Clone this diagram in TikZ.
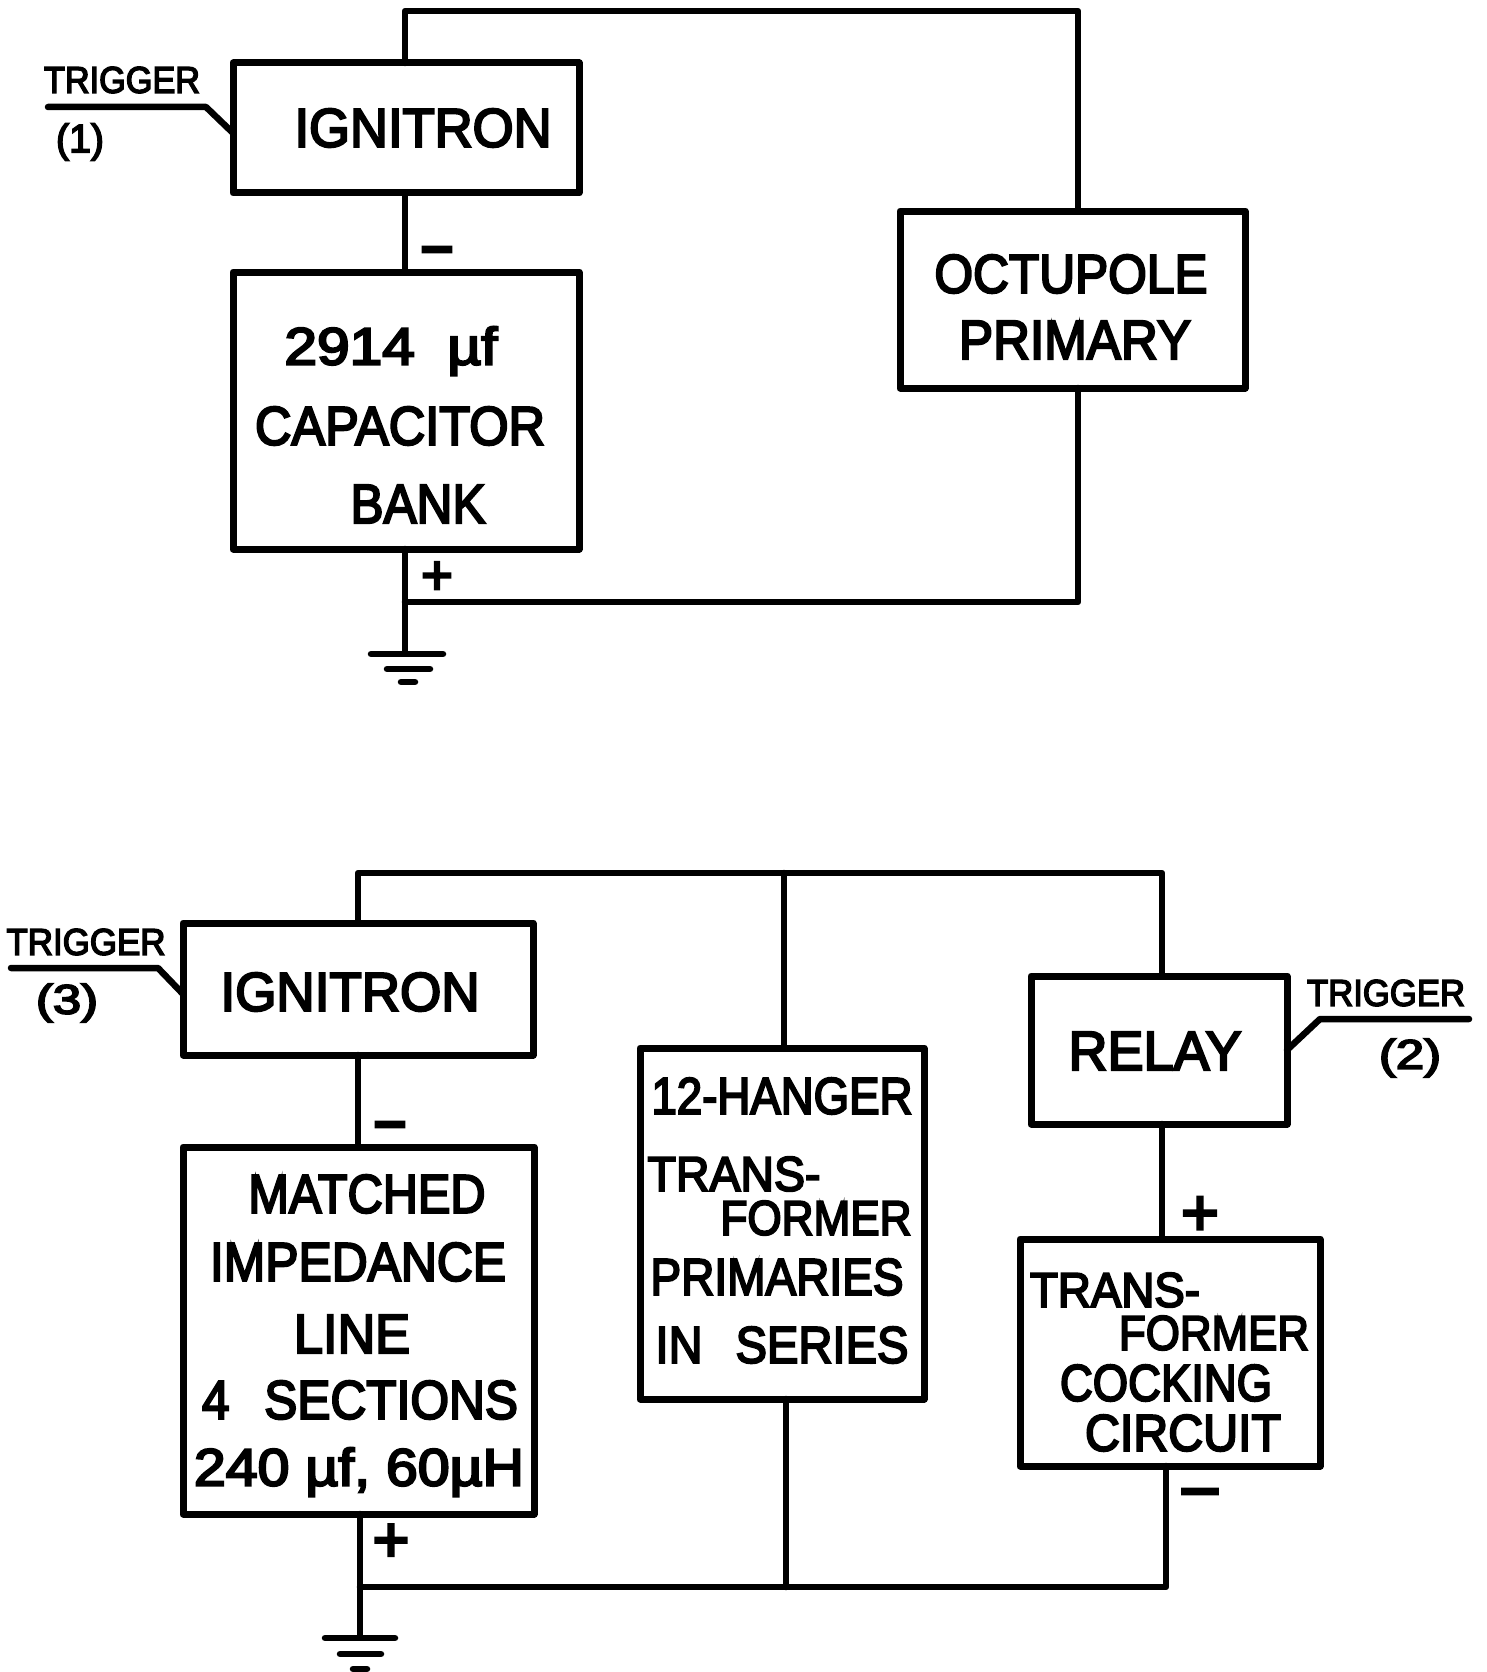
\documentclass[tikz,border=0pt]{standalone}
\usepackage{fontspec}
\usepackage{graphicx}
\setmainfont[FakeBold=4]{Liberation Sans}
\tikzset{
  wire/.style={line width=6.5pt,line cap=round,line join=round},
  blk/.style={draw,rectangle,line width=7pt,line join=round,outer sep=0pt,inner sep=0pt},
  lbl/.style={inner sep=0pt,outer sep=0pt}
}
\newcommand{\lab}[5]{\node[lbl] (#1) at (#2) {\resizebox{#3pt}{#4pt}{#5}};}
\newcommand{\blkat}[5]{\node[blk,minimum width=#4pt,minimum height=#5pt] (#1) at (#2,#3) {};}
\begin{document}
\begin{tikzpicture}[x=1pt,y=-1pt]
\useasboundingbox (0,0) rectangle (1487,1672);
\fill[white] (0,0) rectangle (1487,1672);
% --- top circuit boxes
\blkat{ignA}{406}{128}{346}{130}
\blkat{capA}{406}{410.5}{346}{277}
\blkat{octA}{1072.5}{299.5}{345}{177}
% wires
\coordinate (topL) at (405,11);
\coordinate (topR) at (1078,11);
\coordinate (botA) at (405,602);
\coordinate (botR) at (1078,602);
\coordinate (gndA) at (405,652);
\draw[wire] (ignA.north -| topL) -- (topL) -- (topR) -- (octA.north -| topR);
\draw[wire] (octA.south -| botR) -- (botR) -- (botA);
\draw[wire] (ignA.south -| topL) -- (capA.north -| topL);
\draw[wire] (capA.south -| botA) -- (gndA);
\coordinate (gA1) at (371,654); \coordinate (gA2) at (443,654);
\coordinate (gA3) at (387,669); \coordinate (gA4) at (430,669);
\coordinate (gA5) at (401,682); \coordinate (gA6) at (415,682);
\draw[wire] (gA1) -- (gA2);
\draw[wire] (gA3) -- (gA4);
\draw[wire] (gA5) -- (gA6);
% trigger 1
\coordinate (trA1) at (48,107);
\coordinate (trA2) at (206,107);
\coordinate (trA3) at (233,133);
\draw[wire] (trA1) -- (trA2) -- (trA3);
% --- bottom circuit boxes
\blkat{ignB}{358}{989}{350}{132}
\blkat{matB}{358.5}{1330.5}{351}{367}
\blkat{hanB}{782}{1223.5}{284}{351}
\blkat{relB}{1159}{1050}{256}{148}
\blkat{cokB}{1170}{1352.5}{300}{227}
\coordinate (tL) at (358,873);
\coordinate (tM) at (784,873);
\coordinate (tR) at (1162,873);
\coordinate (bL) at (360,1587);
\coordinate (bM) at (786,1587);
\coordinate (bR) at (1166,1587);
\coordinate (gndB) at (360,1637);
\draw[wire] (ignB.north -| tL) -- (tL) -- (tR) -- (relB.north -| tR);
\draw[wire] (tM) -- (hanB.north -| tM);
\draw[wire] (hanB.south -| bM) -- (bM);
\draw[wire] (ignB.south -| tL) -- (matB.north -| tL);
\draw[wire] (matB.south -| bL) -- (gndB);
\draw[wire] (bL) -- (bR) -- (cokB.south -| bR);
\draw[wire] (relB.south -| tR) -- (cokB.north -| tR);
\coordinate (gB1) at (325,1638); \coordinate (gB2) at (395,1638);
\coordinate (gB3) at (340,1654); \coordinate (gB4) at (381,1654);
\coordinate (gB5) at (353,1669); \coordinate (gB6) at (367,1669);
\draw[wire] (gB1) -- (gB2);
\draw[wire] (gB3) -- (gB4);
\draw[wire] (gB5) -- (gB6);
% triggers
\coordinate (trB1) at (11,968);
\coordinate (trB2) at (158,968);
\coordinate (trB3) at (183,994);
\draw[wire] (trB1) -- (trB2) -- (trB3);
\coordinate (trC1) at (1469,1019);
\coordinate (trC2) at (1320,1019);
\coordinate (trC3) at (1287,1050);
\draw[wire] (trC1) -- (trC2) -- (trC3);
% --- labels
\lab{tA}{122,80}{156}{26}{TRIGGER}
\lab{nA}{80,142}{48}{29}{(1)}
\lab{ign1}{423,128}{257}{38}{IGNITRON}
\lab{mA}{437,260}{34}{26}{−}
\lab{pA}{437,578}{32}{32}{+}
\lab{c1}{391,351}{213}{38}{2914\ \ µf}
\lab{c2}{400,426}{290}{38}{CAPACITOR}
\lab{c3}{418,504}{135}{38}{BANK}
\lab{o1}{1071,274}{273}{38}{OCTUPOLE}
\lab{o2}{1075,340}{232}{38}{PRIMARY}
\lab{tB}{86,942}{159}{26}{TRIGGER}
\lab{nB}{67,1003}{62}{30}{(3)}
\lab{ign2}{350,992}{259}{38}{IGNITRON}
\lab{mB}{390,1135}{34}{26}{−}
\lab{m1}{367,1194}{237}{38}{MATCHED}
\lab{m2}{358,1262}{296}{38}{IMPEDANCE}
\lab{m3}{352,1334}{116}{38}{LINE}
\lab{m4}{360,1400}{316}{38}{4\hspace{0.7em}SECTIONS}
\lab{m5}{359,1472}{330}{38}{240 µf, 60µH}
\lab{pB}{391,1543}{37}{37}{+}
\lab{h1}{782,1096}{261}{36}{12-HANGER}
\lab{h2}{734,1174}{173}{34}{TRANS-}
\lab{h3}{816,1218}{191}{34}{FORMER}
\lab{h4}{777,1277}{253}{36}{PRIMARIES}
\lab{h5}{782,1345}{253}{36}{IN\hspace{0.7em}SERIES}
\lab{r1}{1155,1051}{173}{38}{RELAY}
\lab{tC}{1386,993}{158}{26}{TRIGGER}
\lab{nC}{1410,1058}{62}{30}{(2)}
\lab{pC}{1200,1216}{38}{38}{+}
\lab{mC}{1200,1502}{42}{26}{−}
\lab{k1}{1115,1290}{170}{34}{TRANS-}
\lab{k2}{1214,1333}{190}{34}{FORMER}
\lab{k3}{1166,1383}{212}{36}{COCKING}
\lab{k4}{1183,1433}{196}{36}{CIRCUIT}
\end{tikzpicture}
\end{document}
